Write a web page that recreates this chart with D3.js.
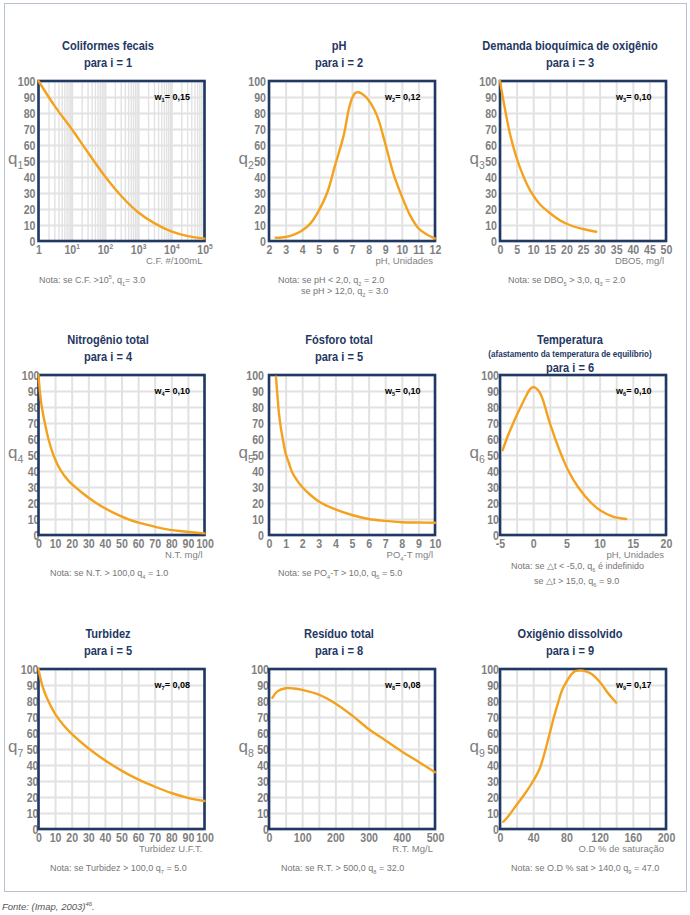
<!DOCTYPE html>
<html><head><meta charset="utf-8">
<script src="https://cdn.jsdelivr.net/npm/d3@7"></script>
<style>body{margin:0;background:#fff}svg{display:block}</style>
</head><body><svg id="c" width="690" height="915"></svg>
<script>
// ---------------- DATA ----------------
const titles = ["Coliformes fecais","pH","Demanda bioquímica de oxigênio","Nitrogênio total","Fósforo total","Temperatura","Turbidez","Resíduo total","Oxigênio dissolvido"];
const subtitles = [null,null,null,null,null,"(afastamento da temperatura de equilíbrio)",null,null,null];
const paraLabels = ["para i = 1","para i = 2","para i = 3","para i = 4","para i = 5","para i = 6","para i = 5","para i = 8","para i = 9"];
const wLabels = ["w_{1}= 0,15","w_{2}= 0,12","w_{3}= 0,10","w_{4}= 0,10","w_{5}= 0,10","w_{6}= 0,10","w_{7}= 0,08","w_{8}= 0,08","w_{9}= 0,17"];
const qIndex = ["1","2","3","4","5","6","7","8","9"];
const xUnits = ["C.F. #/100mL","pH, Unidades","DBO5, mg/l","N.T. mg/l","PO_{4}-T mg/l","pH, Unidades","Turbidez U.F.T.","R.T. Mg/L","O.D % de saturação"];
const notes = [
  ["Nota: se C.F. >10^{5}, q_{1}= 3.0"],
  ["Nota: se pH < 2,0, q_{2} = 2.0","se pH > 12,0, q_{2} = 3.0"],
  ["Nota: se DBO_{5} > 3,0, q_{3} = 2.0"],
  ["Nota: se N.T. > 100,0  q_{4} = 1.0"],
  ["Nota: se PO_{4}-T > 10,0, q_{5} = 5.0"],
  ["Nota: se \u25B3t < -5,0, q_{6} é indefinido","se \u25B3t > 15,0, q_{6} = 9.0"],
  ["Nota: se Turbidez > 100,0  q_{7} = 5.0"],
  ["Nota: se R.T. > 500,0  q_{8} = 32.0"],
  ["Nota: se O.D % sat > 140,0  q_{9} = 47.0"]
];
const yTicks = [0,10,20,30,40,50,60,70,80,90,100];

const cfTicks = [1,10,100,1000,10000,100000];
const cfTickText = ["1","10^{1}","10^{2}","10^{3}","10^{4}","10^{5}"];
const phTicks = [2,3,4,5,6,7,8,9,10,11,12];
const dboTicks = [0,5,10,15,20,25,30,35,40,45,50];
const ntTicks = [0,10,20,30,40,50,60,70,80,90,100];
const po4Ticks = [0,1,2,3,4,5,6,7,8,9,10];
const tempTicks = [-5,0,5,10,15,20];
const turbTicks = [0,10,20,30,40,50,60,70,80,90,100];
const rtTicks = [0,100,200,300,400,500];
const odTicks = [0,40,80,120,160,200];

const cfX = [1,3.162,10,31.62,100,316.2,1000,3162,10000,31623,100000];
const cfQ = [100,84,70,55,40.5,28,18,11,6,3,1.5];
const phX = [2.4,3,3.5,4,4.5,5,5.5,6,6.5,6.8,7,7.2,7.4,7.6,8,8.5,9,9.5,10,10.5,11,11.5,12];
const phQ = [2,2.5,4,6.5,11,19,30,48,66,82,89,92.5,93,92,88,78.5,61,42,28,16,8,4,1.5];
const dboX = [0,1,2,3,4,5,6,8,10,12,15,18,21,25,29];
const dboQ = [100,88,77,67,59,52,46,36,28.5,23,17.5,13,10,7.5,5.8];
const ntX = [0,1,2,4,6,9,13,18,25,34,45,55,65,75,85,100];
const ntQ = [100,88,80,69,60,50,41,34,27.5,20.5,14,9.5,6.5,4,2.5,1];
const po4X = [0.42,0.5,0.6,0.7,0.85,1,1.2,1.4,1.7,2,2.5,3,4,5,6,7,8,9,10];
const po4Q = [99,88,76,68,59,51,45,39,34,30,25,21,16,12.5,10,8.8,8,7.8,7.7];
const tempX = [-4.6,-4,-3,-2,-1,-0.5,0,0.5,1,1.5,2,2.5,3,3.5,4.25,5.25,6.75,8.75,10.25,12,14];
const tempQ = [53,60,70,79,87.5,91,92.5,91.5,89,84,77,70,64,58,50,40.5,30,20,15,11.5,10];
const turbX = [0,1,2.5,5,10,15,20,30,40,50,60,70,80,90,100];
const turbQ = [100,95,89,82,72,65,59.5,50.5,43,36.5,31,26.5,22.5,19.5,17.5];
const rtX = [10,25,50,75,100,150,200,250,300,350,400,450,500];
const rtQ = [82,86,88,87.8,87,84,78.5,71,62.5,55.5,48.5,42,35.5];
const odX = [4,10,20,30,40,48,55,60,65,70,75,80,85,90,95,100,110,120,130,140];
const odQ = [4.5,8,15,22,30,38,50,60,70,79,87,92,96,98.5,99,99,97,92,85,79];

// ---------------- LAYOUT ----------------
const colLeft = [38.5,269,500], rowTop = [81,375,669];
const boxW = 166, boxH = 160;
const titleCx = [108,339,570];
const noteX = [[39],[278,301],[508],[50],[278],[511,534],[50],[281],[511]];
const noteY = [[202],[202,213],[202],[201],[201],[194,209],[202],[202],[202]];
const yLabShift = [-3,-3,-3,1,-5,-1,0,0,-1];

const NAVY = "#1f3864", GRID = "#e2e2e2", ORANGE = "#f4a21d", GRAY = "#7f7f7f";
const SANS = "'Liberation Sans',Arial,sans-serif";
const SQ = 0.85; // horizontal condensing

const cfGrid = [], cfMajor = [];
for (let d = 0; d < 5; d++) for (let m = 1; m < 10; m++) cfGrid.push(m * Math.pow(10, d));
cfGrid.push(100000);

const panels = [
  {xs:cfX, qs:cfQ, dom:[1,100000], log:true, ticks:cfTicks, tickText:cfTickText, grid:cfGrid},
  {xs:phX, qs:phQ, dom:[2,12], ticks:phTicks, grid:d3.range(2,12.01,1)},
  {xs:dboX, qs:dboQ, dom:[0,50], ticks:dboTicks, grid:d3.range(0,50.01,5)},
  {xs:ntX, qs:ntQ, dom:[0,100], ticks:ntTicks, grid:d3.range(0,100.01,10)},
  {xs:po4X, qs:po4Q, dom:[0,10], ticks:po4Ticks, grid:d3.range(0,10.01,1)},
  {xs:tempX, qs:tempQ, dom:[-5,20], ticks:tempTicks, grid:d3.range(-5,20.01,2.5)},
  {xs:turbX, qs:turbQ, dom:[0,100], ticks:turbTicks, grid:d3.range(0,100.01,10)},
  {xs:rtX, qs:rtQ, dom:[0,500], ticks:rtTicks, grid:d3.range(0,500.01,50)},
  {xs:odX, qs:odQ, dom:[0,200], ticks:odTicks, grid:d3.range(0,200.01,20)}
];

function rich(sel, str, size) {
  const parts = str.split(/(_\{[^}]*\}|\^\{[^}]*\})/).filter(s => s.length);
  let shift = 0;
  parts.forEach(p => {
    let t = p, target = 0, fs = size;
    if (p.startsWith("_{")) { t = p.slice(2,-1); target = size*0.3; fs = size*0.62; }
    else if (p.startsWith("^{")) { t = p.slice(2,-1); target = -size*0.45; fs = size*0.62; }
    sel.append("tspan").attr("dy", target - shift).attr("font-size", fs).text(t);
    shift = target;
  });
}

const svg = d3.select("#c");
svg.append("rect").attr("x",4.5).attr("y",3.5).attr("width",682).attr("height",888)
  .attr("fill","none").attr("stroke","#b9c0cf").attr("stroke-width",1);

panels.forEach((p, i) => {
  const col = i % 3, row = Math.floor(i / 3);
  const L = colLeft[col], T = rowTop[row];
  const g = svg.append("g").attr("transform", `translate(${L},${T})`);
  const x = (p.log ? d3.scaleLog() : d3.scaleLinear()).domain(p.dom).range([0, boxW]);
  const y = d3.scaleLinear().domain([0,100]).range([boxH, 0]);

  // grid
  const gx = g.append("g").attr("transform",`translate(0,${boxH})`)
    .call(d3.axisBottom(x).tickValues(p.grid).tickSize(-boxH).tickFormat(""));
  const gy = g.append("g").call(d3.axisLeft(y).tickValues(yTicks).tickSize(-boxW).tickFormat(""));
  [gx, gy].forEach(a => { a.select(".domain").remove(); a.selectAll("line").attr("stroke",GRID).attr("stroke-width",2); });
  if (p.log) gx.selectAll("line").attr("stroke-width", d => (Math.abs(Math.log10(d) % 1) < 1e-9 ? 2 : 1.4));

  // y tick labels
  const ay = g.append("g").attr("transform",`translate(${yLabShift[i]},0)`)
    .call(d3.axisLeft(y).tickValues(yTicks).tickSize(0).tickPadding(0));
  ay.select(".domain").remove();
  ay.selectAll("text").attr("font-family",SANS).attr("font-weight","bold").attr("font-size",12.5)
    .attr("fill",GRAY).attr("transform",`scale(${SQ},1)`);

  // x tick labels
  const ax = g.append("g").attr("transform",`translate(0,${boxH})`)
    .call(d3.axisBottom(x).tickValues(p.ticks).tickSize(0).tickPadding(0)
      .tickFormat((d, k) => p.tickText ? p.tickText[k] : String(d)));
  ax.select(".domain").remove();
  ax.selectAll("text").each(function() {
    const s = this.textContent; this.textContent = "";
    const t = d3.select(this).attr("dy", null).attr("y", 13.5);
    rich(t, s, 12.5);
  }).attr("font-family",SANS).attr("font-weight","bold").attr("fill",GRAY)
    .attr("transform",`scale(${SQ},1)`);

  // box
  g.append("rect").attr("width",boxW).attr("height",boxH).attr("fill","none")
    .attr("stroke",NAVY).attr("stroke-width",2.6);

  // curve
  const line = d3.line().x(d => x(d[0])).y(d => y(d[1])).curve(d3.curveCatmullRom.alpha(0.5));
  g.append("path").datum(p.xs.map((v,k) => [v, p.qs[k]])).attr("d", line)
    .attr("fill","none").attr("stroke",ORANGE).attr("stroke-width",2.4).attr("stroke-linecap","round");

  // w label
  const wt = g.append("text").attr("x",116).attr("y",18.5).attr("font-family",SANS)
    .attr("font-weight","bold").attr("font-size",9).attr("fill","#000");
  rich(wt, wLabels[i], 9);

  // q label
  const qt = g.append("text").attr("x",-30.5).attr("y",y(50)+3).attr("font-family",SANS)
    .attr("font-size",17).attr("fill",GRAY);
  rich(qt, "q_{" + qIndex[i] + "}", 17);

  // unit label
  const ut = g.append("text").attr("x",boxW-2).attr("y",183).attr("text-anchor","end")
    .attr("font-family",SANS).attr("font-size",9.5).attr("fill",GRAY);
  rich(ut, xUnits[i], 9.5);

  // notes
  notes[i].forEach((s, k) => {
    const nt = svg.append("text").attr("x",noteX[i][k]).attr("y",T + noteY[i][k])
      .attr("font-family",SANS).attr("font-size",9).attr("fill","#767676");
    rich(nt, s, 9);
  });

  // titles
  const tx = titleCx[col];
  const title = (yy, fs, txt) => svg.append("text")
    .attr("transform",`translate(${tx},${yy}) scale(${SQ},1)`)
    .attr("text-anchor","middle").attr("font-family",SANS).attr("font-weight","bold")
    .attr("font-size",fs).attr("fill",NAVY).text(txt);
  title(T-31.5, 13, titles[i]);
  if (subtitles[i]) {
    title(T-18, 9.5, subtitles[i]);
    title(T-3.5, 13, paraLabels[i]);
  } else {
    title(T-14.5, 13, paraLabels[i]);
  }
});

const ft = svg.append("text").attr("x",2).attr("y",910).attr("font-family",SANS)
  .attr("font-style","italic").attr("font-size",9.5).attr("fill","#555");
rich(ft, "Fonte: (Imap, 2003)^{46}.", 9.5);
</script></body></html>
